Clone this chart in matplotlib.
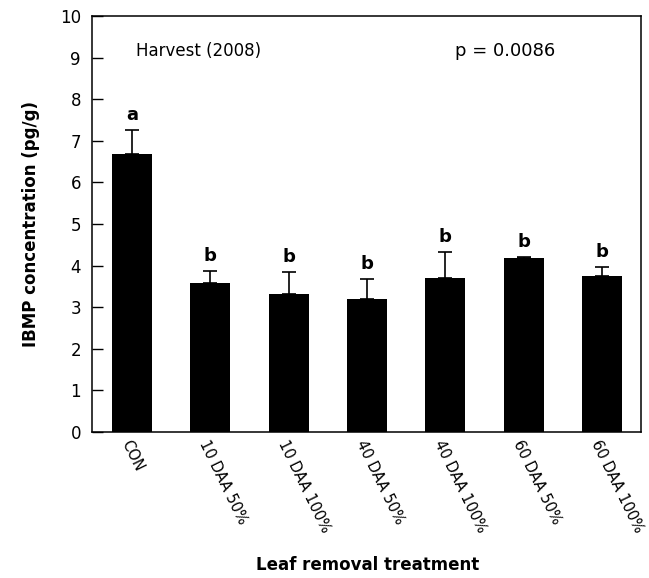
import numpy as np
import matplotlib
matplotlib.use("Agg")
import matplotlib.pyplot as plt

plt.rcParams['font.family'] = ['DejaVu Sans']

treatments = ["CON", "10 DAA 50%", "10 DAA 100%", "40 DAA 50%",
              "40 DAA 100%", "60 DAA 50%", "60 DAA 100%"]
ibmp = [6.68, 3.57, 3.31, 3.19, 3.70, 4.18, 3.75]
err = [0.58, 0.30, 0.53, 0.48, 0.62, 0.03, 0.21]
letters = ["a", "b", "b", "b", "b", "b", "b"]

fig = plt.figure(figsize=(6.49, 5.78), dpi=100)
ax = fig.add_axes([0.1418, 0.2526, 0.8459, 0.7197])

x = np.arange(len(treatments))
ax.bar(x, ibmp, width=0.51, color="black", zorder=2)
ax.errorbar(x, ibmp, yerr=[np.zeros(len(err)), err], fmt="none",
            ecolor="black", elinewidth=1.2, capsize=5, capthick=1.2, zorder=3)

for xi, v, e, l in zip(x, ibmp, err, letters):
    ax.text(xi, v + e + 0.15, l, ha="center", va="bottom",
            fontsize=13, fontweight="bold")

ax.set_xlim(-0.51, 6.5)
ax.set_ylim(0, 10)
ax.set_yticks(range(0, 11))
ax.tick_params(axis="y", direction="in", length=8, labelsize=12, width=1, pad=8)
ax.tick_params(axis="x", length=0, labelsize=10.5, pad=4)
ax.set_xticks(x)
ax.set_xticklabels(treatments, rotation=-64, ha="left", va="top",
                   rotation_mode="anchor")
for s in ax.spines.values():
    s.set_linewidth(1.1)

ax.text(0.08, 0.915, "Harvest (2008)", transform=ax.transAxes,
        fontsize=12, va="center")
ax.text(0.662, 0.915, "p = 0.0086", transform=ax.transAxes,
        fontsize=13, va="center")

ax.set_ylabel("IBMP concentration (pg/g)", fontsize=12, fontweight="bold",
              labelpad=14)
fig.text(0.566, 0.022, "Leaf removal treatment", ha="center", va="center",
         fontsize=12, fontweight="bold")

fig.savefig("out.png", dpi=100)
